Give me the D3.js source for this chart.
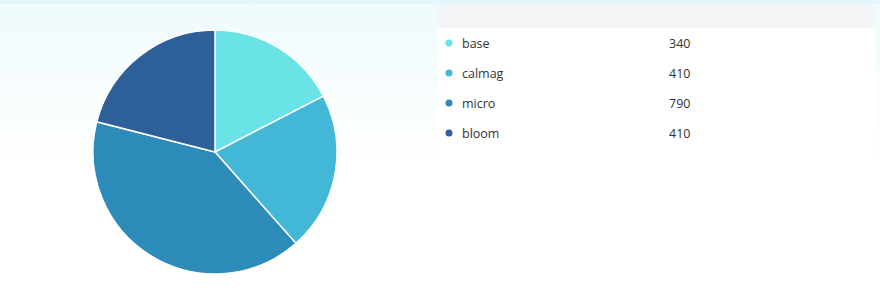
<!DOCTYPE html>
<html>
<head>
<meta charset="utf-8">
<script src="https://cdn.jsdelivr.net/npm/d3@7"></script>
<style>
  html, body { margin: 0; padding: 0; }
  body { width: 880px; height: 300px; overflow: hidden; font-family: "Open Sans", sans-serif; }
</style>
</head>
<body>
<script>
const width = 880;
const height = 300;

const categories = ["base", "calmag", "micro", "bloom"];
const values = [340, 410, 790, 410];
const colors = ["#6ae3e6", "#42b8d6", "#2d8bba", "#2d5f99"];

const data = categories.map((name, i) => ({ name, value: values[i] }));

const svg = d3.select("body")
  .append("svg")
  .attr("width", width)
  .attr("height", height);

// background gradient
const defs = svg.append("defs");
const grad = defs.append("linearGradient")
  .attr("id", "bg")
  .attr("x1", 0).attr("y1", 0).attr("x2", 0).attr("y2", 1);
grad.append("stop").attr("offset", "0%").attr("stop-color", "#eefafd");
grad.append("stop").attr("offset", "55%").attr("stop-color", "#ffffff");
grad.append("stop").attr("offset", "100%").attr("stop-color", "#ffffff");

svg.append("rect")
  .attr("width", width)
  .attr("height", height)
  .attr("fill", "url(#bg)");

svg.append("rect")
  .attr("width", width)
  .attr("height", 4)
  .attr("fill", "#e2f6fb");

// pie
const color = d3.scaleOrdinal().domain(categories).range(colors);
const radius = 122;

const pie = d3.pie()
  .value(d => d.value)
  .sort(null);

const arc = d3.arc()
  .innerRadius(0)
  .outerRadius(radius);

const g = svg.append("g")
  .attr("transform", "translate(215, 152)");

g.selectAll("path")
  .data(pie(data))
  .enter()
  .append("path")
    .attr("d", arc)
    .attr("fill", d => color(d.data.name))
    .attr("stroke", "#fff")
    .attr("stroke-width", 1.5);

// legend panel
const panel = svg.append("g")
  .attr("transform", "translate(437, 4)");

panel.append("rect")
  .attr("width", 439)
  .attr("height", 296)
  .attr("rx", 6)
  .attr("fill", "#ffffff");

panel.append("path")
  .attr("d", "M0,0 H433 A6,6 0 0 1 439,6 V24 H0 Z")
  .attr("fill", "#f4f5f7");

const y = d3.scalePoint()
  .domain(categories)
  .range([39, 129]);

const rows = panel.selectAll(".row")
  .data(data)
  .enter()
  .append("g")
    .attr("transform", d => `translate(0, ${y(d.name)})`);

rows.append("circle")
  .attr("cx", 12)
  .attr("cy", 0)
  .attr("r", 3.5)
  .attr("fill", d => color(d.name));

rows.append("text")
  .attr("x", 25)
  .attr("y", 4.5)
  .attr("font-size", 12.5)
  .attr("fill", "#333")
  .text(d => d.name);

rows.append("text")
  .attr("x", 232)
  .attr("y", 4.5)
  .attr("font-size", 12.5)
  .attr("fill", "#333")
  .text(d => d.value);
</script>
</body>
</html>
